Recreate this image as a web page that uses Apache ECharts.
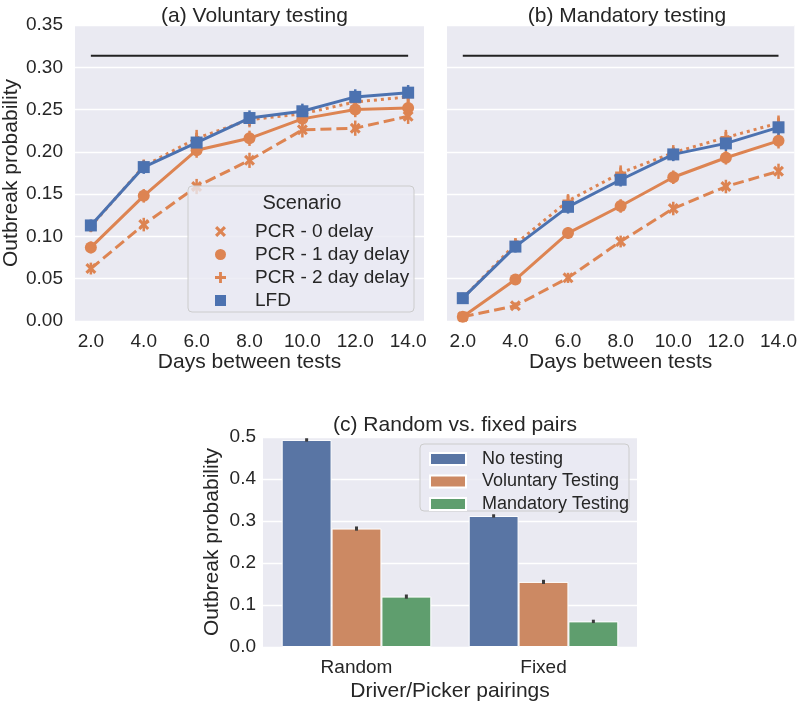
<!DOCTYPE html>
<html>
<head>
<meta charset="utf-8">
<script src="https://cdn.jsdelivr.net/npm/echarts@6/dist/echarts.min.js"></script>
<style>html,body{margin:0;padding:0;background:#fff}#c{width:800px;height:704px}</style>
</head>
<body>
<div id="c"></div>
<script>
// ---------- data ----------
const days = [2, 4, 6, 8, 10, 12, 14];
const xTickValues = [2, 4, 6, 8, 10, 12, 14];
const baseline = 0.3135;

// (a) Voluntary testing
const aPcr0 = [0.062, 0.114, 0.159, 0.190, 0.226, 0.228, 0.242];
const aPcr1 = [0.087, 0.148, 0.202, 0.216, 0.239, 0.250, 0.252];
const aPcr2 = [0.112, 0.183, 0.216, 0.238, 0.245, 0.259, 0.265];
const aLfd  = [0.113, 0.182, 0.211, 0.240, 0.248, 0.265, 0.270];
const aErr0 = [0.007, 0.008, 0.009, 0.009, 0.009, 0.009, 0.009];
const aErr1 = [0.007, 0.008, 0.009, 0.009, 0.009, 0.009, 0.009];
const aErr2 = [0.007, 0.008, 0.010, 0.009, 0.009, 0.009, 0.009];
const aErrL = [0.007, 0.008, 0.009, 0.009, 0.009, 0.009, 0.009];

// (b) Mandatory testing
const bPcr0 = [0.005, 0.018, 0.051, 0.094, 0.133, 0.159, 0.177];
const bPcr1 = [0.005, 0.049, 0.104, 0.136, 0.170, 0.193, 0.213];
const bPcr2 = [0.027, 0.091, 0.142, 0.175, 0.199, 0.217, 0.234];
const bLfd  = [0.027, 0.088, 0.135, 0.167, 0.197, 0.210, 0.229];
const bErr0 = [0.003, 0.004, 0.006, 0.007, 0.008, 0.008, 0.009];
const bErr1 = [0.003, 0.005, 0.007, 0.008, 0.008, 0.008, 0.009];
const bErr2 = [0.004, 0.007, 0.008, 0.009, 0.009, 0.009, 0.009];
const bErrL = [0.004, 0.007, 0.008, 0.008, 0.008, 0.009, 0.009];

const scenarioNames = ['PCR - 0 delay', 'PCR - 1 day delay', 'PCR - 2 day delay', 'LFD'];

// (c) Random vs. fixed pairs
const pairings = ['Random', 'Fixed'];
const barNames = ['No testing', 'Voluntary Testing', 'Mandatory Testing'];
const noTesting = [0.493, 0.312];
const voluntary = [0.282, 0.155];
const mandatory = [0.120, 0.061];
const noTestingErr = [0.004, 0.004];
const voluntaryErr = [0.005, 0.005];
const mandatoryErr = [0.005, 0.004];

// ---------- styling ----------
const FONT = 'Liberation Sans, Arial, sans-serif';
const TXT = '#262626';
const ORANGE = '#dd8452', BLUE = '#4c72b0';
const X_PATH = 'path://M2,0 L5,3 L8,0 L10,2 L7,5 L10,8 L8,10 L5,7 L2,10 L0,8 L3,5 L0,2 Z';
const PLUS_PATH = 'path://M3.7,0 H6.3 V3.7 H10 V6.3 H6.3 V10 H3.7 V6.3 H0 V3.7 H3.7 Z';

const styles = [
  {color: ORANGE, symbol: X_PATH, size: 11, type: [11, 5]},
  {color: ORANGE, symbol: 'circle', size: 12, type: 'solid'},
  {color: ORANGE, symbol: PLUS_PATH, size: 11, type: [3, 4]},
  {color: BLUE, symbol: 'rect', size: 12, type: 'solid'}
];

function errRender(color) {
  return function (params, api) {
    const x = api.value(0), y = api.value(1), e = api.value(2);
    const p1 = api.coord([x, y - e]), p2 = api.coord([x, y + e]);
    return {type: 'line', shape: {x1: p1[0], y1: p1[1], x2: p2[0], y2: p2[1]},
      style: {stroke: color, lineWidth: 2.5}};
  };
}

function lineSeries(panel, vals, errs) {
  const out = [];
  vals.forEach((v, k) => {
    const st = styles[k];
    out.push({
      type: 'custom', xAxisIndex: panel, yAxisIndex: panel, z: 2,
      renderItem: errRender(st.color), silent: true,
      data: days.map((d, i) => [d, v[i], errs[k][i]])
    });
    out.push({
      name: scenarioNames[k], type: 'line', xAxisIndex: panel, yAxisIndex: panel,
      data: days.map((d, i) => [d, v[i]]), z: 3 + k,
      symbol: st.symbol, symbolSize: st.size, showSymbol: true,
      itemStyle: {color: st.color, borderWidth: 0},
      lineStyle: {color: st.color, width: 3, type: st.type},
      animation: false
    });
  });
  out.push({
    type: 'line', xAxisIndex: panel, yAxisIndex: panel, symbol: 'none', z: 2,
    data: [[days[0], baseline], [days[days.length - 1], baseline]],
    lineStyle: {color: '#222222', width: 2}, animation: false
  });
  return out;
}

function barErrRender(params, api) {
  const cat = api.value(0), y = api.value(1), e = api.value(2), s = api.value(3);
  const c = api.coord([cat, y]);
  const band = api.size([1, 0])[0];
  const bw = band * 0.8 / 3;
  const x = c[0] + (s - 1) * bw;
  const p1 = api.coord([cat, y - e]), p2 = api.coord([cat, y + e]);
  return {type: 'line', shape: {x1: x, y1: p1[1], x2: x, y2: p2[1]},
    style: {stroke: '#3c3c3c', lineWidth: 3}};
}

const barVals = [noTesting, voluntary, mandatory];
const barErrs = [noTestingErr, voluntaryErr, mandatoryErr];
const barColors = ['#5975a4', '#cc8963', '#5f9e6e'];

const series = []
  .concat(lineSeries(0, [aPcr0, aPcr1, aPcr2, aLfd], [aErr0, aErr1, aErr2, aErrL]))
  .concat(lineSeries(1, [bPcr0, bPcr1, bPcr2, bLfd], [bErr0, bErr1, bErr2, bErrL]));

barNames.forEach((n, k) => {
  series.push({
    name: n, type: 'bar', xAxisIndex: 2, yAxisIndex: 2, data: barVals[k],
    barGap: '0%', barCategoryGap: '20%',
    itemStyle: {color: barColors[k], borderColor: '#ffffff', borderWidth: 1},
    animation: false
  });
});
const barErrData = [];
barVals.forEach((v, k) => v.forEach((val, i) => barErrData.push([i, val, barErrs[k][i], k])));
series.push({type: 'custom', xAxisIndex: 2, yAxisIndex: 2, renderItem: barErrRender,
  data: barErrData, z: 5, silent: true});

function valueX(grid) {
  return {
    type: 'value', gridIndex: grid, min: 1.4, max: 14.6,
    name: 'Days between tests', nameLocation: 'middle', nameGap: 31,
    nameTextStyle: {fontFamily: FONT, fontSize: 21, color: TXT},
    axisLine: {show: false}, axisTick: {show: false}, splitLine: {show: false},
    axisLabel: {fontFamily: FONT, fontSize: 19, color: TXT, margin: 11,
      customValues: xTickValues, formatter: v => v.toFixed(1)}
  };
}
function valueY(grid, showLabels) {
  return {
    type: 'value', gridIndex: grid, min: 0, max: 0.35, interval: 0.05,
    name: showLabels ? 'Outbreak probability' : '', nameLocation: 'middle', nameGap: 53,
    nameTextStyle: {fontFamily: FONT, fontSize: 21, color: TXT},
    axisLine: {show: false}, axisTick: {show: false},
    splitLine: {lineStyle: {color: '#ffffff', width: 1.3}},
    axisLabel: {show: showLabels, fontFamily: FONT, fontSize: 19, color: TXT, margin: 12,
      formatter: v => v.toFixed(2)}
  };
}

const option = {
  backgroundColor: '#ffffff',
  animation: false,
  title: [
    {text: '(a) Voluntary testing', left: 249.5, top: 1, textAlign: 'center',
      textStyle: {fontFamily: FONT, fontSize: 21, fontWeight: 'normal', color: TXT}},
    {text: '(b) Mandatory testing', left: 622, top: 1, textAlign: 'center',
      textStyle: {fontFamily: FONT, fontSize: 21, fontWeight: 'normal', color: TXT}},
    {text: '(c) Random vs. fixed pairs', left: 450, top: 410, textAlign: 'center',
      textStyle: {fontFamily: FONT, fontSize: 21, fontWeight: 'normal', color: TXT}}
  ],
  grid: [
    {left: 75, right: 376, top: 25, bottom: 383, show: true, backgroundColor: '#eaeaf2', borderWidth: 0},
    {left: 447, right: 3, top: 25, bottom: 383, show: true, backgroundColor: '#eaeaf2', borderWidth: 0},
    {left: 263, right: 163, top: 437, bottom: 57, show: true, backgroundColor: '#eaeaf2', borderWidth: 0}
  ],
  xAxis: [
    valueX(0), valueX(1),
    {type: 'category', gridIndex: 2, data: pairings,
      name: 'Driver/Picker pairings', nameLocation: 'middle', nameGap: 34,
      nameTextStyle: {fontFamily: FONT, fontSize: 21, color: TXT},
      axisLine: {show: false}, axisTick: {show: false}, splitLine: {show: false},
      axisLabel: {fontFamily: FONT, fontSize: 19, color: TXT, margin: 11}}
  ],
  yAxis: [
    valueY(0, true), valueY(1, false),
    {type: 'value', gridIndex: 2, min: 0, max: 0.5, interval: 0.1,
      name: 'Outbreak probability', nameLocation: 'middle', nameGap: 40,
      nameTextStyle: {fontFamily: FONT, fontSize: 21, color: TXT},
      axisLine: {show: false}, axisTick: {show: false},
      splitLine: {lineStyle: {color: '#ffffff', width: 1.3}},
      axisLabel: {fontFamily: FONT, fontSize: 19, color: TXT, margin: 7,
        formatter: v => v.toFixed(1)}}
  ],
  legend: [
    {
      orient: 'vertical', left: 210, top: 217, z: 20,
      itemWidth: 11, itemHeight: 11, itemGap: 4,
      textStyle: {fontFamily: FONT, fontSize: 19, color: TXT, padding: [0, 0, 0, 24]},
      selectedMode: false,
      data: [
        {name: scenarioNames[0], icon: X_PATH},
        {name: scenarioNames[1], icon: 'circle'},
        {name: scenarioNames[2], icon: PLUS_PATH},
        {name: scenarioNames[3], icon: 'rect'}
      ]
    },
    {
      orient: 'vertical', left: 424, top: 445, z: 20,
      itemWidth: 36, itemHeight: 12, itemGap: 4.5,
      textStyle: {fontFamily: FONT, fontSize: 18, color: TXT, padding: [0, 0, 0, 11]},
      selectedMode: false,
      data: barNames.map(n => ({name: n, icon: 'rect'}))
    }
  ],
  graphic: [
    {type: 'rect', z: 15, shape: {x: 188, y: 186, width: 226, height: 126, r: 4},
      style: {fill: 'rgba(234,234,242,0.8)', stroke: '#cccccc', lineWidth: 1}},
    {type: 'text', z: 16, x: 302, y: 203,
      style: {text: 'Scenario', fontFamily: FONT, fontSize: 20, fill: TXT, align: 'center', verticalAlign: 'middle'}},
    {type: 'rect', z: 15, shape: {x: 420, y: 444, width: 209, height: 67, r: 4},
      style: {fill: 'rgba(234,234,242,0.8)', stroke: '#cccccc', lineWidth: 1}}
  ],
  series: series
};

const chart = echarts.init(document.getElementById('c'), null, {renderer: 'canvas'});
chart.setOption(option);
</script>
</body>
</html>
